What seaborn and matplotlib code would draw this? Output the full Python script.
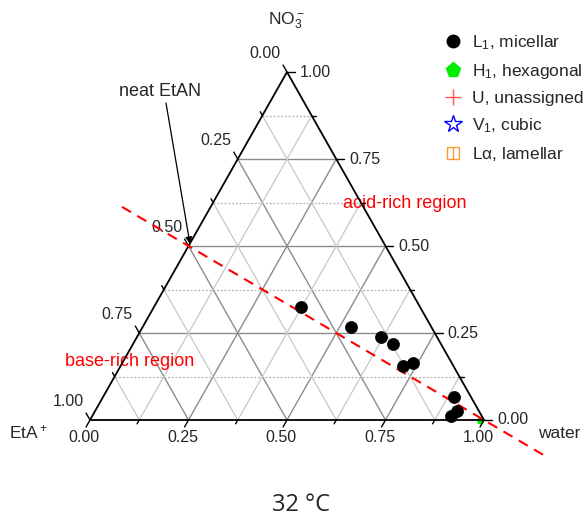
import numpy as np
import pandas as pd
import matplotlib
matplotlib.use("Agg")
import matplotlib.pyplot as plt
import seaborn as sns
from matplotlib.lines import Line2D

# ---------------- data ----------------
# L1 micellar compositions (mole fractions): EtA+, NO3-, water
eta_L1 = [0.302, 0.204, 0.142, 0.123, 0.128, 0.098, 0.043, 0.056, 0.079]
no3_L1 = [0.326, 0.267, 0.239, 0.218, 0.155, 0.164, 0.067, 0.027, 0.012]
water_L1 = [0.372, 0.529, 0.619, 0.659, 0.717, 0.738, 0.890, 0.917, 0.909]
# H1 hexagonal
eta_H1 = [0.01]
no3_H1 = [0.0]
water_H1 = [0.99]
# dilution line: neat EtAN -> water (extended)
dil_eta = [0.5, 0.0]
dil_no3 = [0.5, 0.0]
dil_water = [0.0, 1.0]
dil_t = [-0.225, 1.2]
major_vals = [0.0, 0.25, 0.5, 0.75, 1.0]
minor_vals = [0.125, 0.375, 0.625, 0.875]
tick_labels = ["0.00", "0.25", "0.50", "0.75", "1.00"]

S3 = np.sqrt(3) / 2


def tern(eta, no3, water):
    eta, no3, water = map(np.asarray, (eta, no3, water))
    return water + no3 / 2.0, no3 * S3


sns.set_style("white")
plt.rcParams["font.family"] = ["Liberation Sans", "DejaVu Sans"]
plt.rcParams["mathtext.fontset"] = "custom"
plt.rcParams["mathtext.rm"] = "Liberation Sans"
plt.rcParams["mathtext.it"] = "Liberation Sans:italic"
plt.rcParams["mathtext.default"] = "regular"

W, H = 585, 519
fig = plt.figure(figsize=(W / 100, H / 100), dpi=100)
ax = fig.add_axes([0, 0, 1, 1])
OX, OY = 90.0, 420.0
SX, SY = 394.0, 401.8
ax.set_xlim(-OX / SX, (W - OX) / SX)
ax.set_ylim(-(H - OY) / SY, OY / SY)
ax.axis("off")


def P(px, py):
    return ((px - OX) / SX, (OY - py) / SY)


# ---------------- grid ----------------
def grid_line(v, fam, **kw):
    if fam == "no3":
        a = tern(1 - v, v, 0)
        b = tern(0, v, 1 - v)
    elif fam == "water":
        a = tern(1 - v, 0, v)
        b = tern(0, 1 - v, v)
    else:
        a = tern(v, 0, 1 - v)
        b = tern(v, 1 - v, 0)
    ax.plot([a[0], b[0]], [a[1], b[1]], **kw)


for v in major_vals[1:-1]:
    for fam in ("no3", "water", "eta"):
        grid_line(v, fam, color="#8c8c8c", lw=1.0, zorder=1)
for v in minor_vals:
    grid_line(v, "no3", color="#b0b0b0", lw=0.9, ls=(0, (1.5, 1.5)), zorder=1)
    grid_line(v, "water", color="#c8c8c8", lw=0.9, zorder=1)
    grid_line(v, "eta", color="#c8c8c8", lw=0.9, zorder=1)

# triangle frame
fx, fy = tern([1, 0, 0, 1], [0, 0, 1, 0], [0, 1, 0, 0])
ax.plot(fx, fy, color="black", lw=1.3, zorder=4, solid_joinstyle="miter")

# ---------------- ticks ----------------
d_bot = np.array([-0.5, -S3])
d_left = np.array([-0.5, S3])
d_right = np.array([1.0, 0.0])
for vals, L in ((major_vals, 0.02), (minor_vals, 0.011)):
    for v in vals:
        p = np.array(tern(0, 0, v), float)  # bottom: water
        q = p + d_bot * L
        ax.plot([p[0], q[0]], [p[1], q[1]], color="black", lw=1.0, zorder=4)
        p = np.array(tern(v, 1 - v, 0), float)  # left: EtA
        q = p + d_left * L
        ax.plot([p[0], q[0]], [p[1], q[1]], color="black", lw=1.0, zorder=4)
        p = np.array(tern(0, v, 1 - v), float)  # right: NO3
        q = p + d_right * L
        ax.plot([p[0], q[0]], [p[1], q[1]], color="black", lw=1.0, zorder=4)

fs_tick = 11.5
for v, lab in zip(major_vals, tick_labels):
    x, y = tern(0, 0, v)
    ax.text(x - 6 / SX, y - 18 / SY, lab, ha="center", va="center", fontsize=fs_tick)
    x, y = tern(v, 1 - v, 0)
    ax.text(x - 22 / SX, y + 19 / SY, lab, ha="center", va="center", fontsize=fs_tick)
    x, y = tern(0, v, 1 - v)
    ax.text(x + 13 / SX, y, lab, ha="left", va="center", fontsize=fs_tick)

# axis titles
ax.text(*P(286, 21), "NO$_3^-$", ha="center", va="center", fontsize=12.5)
ax.text(*P(28, 432), "EtA$^+$", ha="center", va="center", fontsize=12.5)
ax.text(*P(559, 434), "water", ha="center", va="center", fontsize=12.5)

# ---------------- dilution line ----------------
t = np.array(dil_t)
le = dil_eta[0] + t * (dil_eta[1] - dil_eta[0])
ln = dil_no3[0] + t * (dil_no3[1] - dil_no3[0])
lw_ = dil_water[0] + t * (dil_water[1] - dil_water[0])
lx, ly = tern(le, ln, lw_)
ax.plot(lx, ly, color="red", lw=1.5, dashes=(5, 3.5), zorder=5)

# ---------------- data points ----------------
hx, hy = tern(eta_H1, no3_H1, water_H1)
ax.plot(hx, hy, marker="p", ls="none", color="#00ee00", ms=5, zorder=3)

x1, y1 = tern(eta_L1, no3_L1, water_L1)
df = pd.DataFrame({"x": x1, "y": y1, "phase": "L1"})
sns.scatterplot(data=df, x="x", y="y", color="black", s=75, edgecolor="black",
                linewidth=0.5, ax=ax, zorder=6, legend=False)
ax.set_xlim(-OX / SX, (W - OX) / SX)
ax.set_ylim(-(H - OY) / SY, OY / SY)
ax.axis("off")

# ---------------- annotations ----------------
ax.annotate("", xy=P(190, 244), xytext=P(166, 103),
            arrowprops=dict(arrowstyle="-|>", color="black", lw=0.9,
                            mutation_scale=10, shrinkA=0, shrinkB=0), zorder=7)
ax.text(*P(160, 91), "neat EtAN", ha="center", va="center", fontsize=13)
ax.text(*P(405, 203), "acid-rich region", ha="center", va="center", fontsize=13, color="red")
ax.text(*P(130, 361), "base-rich region", ha="center", va="center", fontsize=13, color="red")
fig.text(301 / W, 1 - 505 / H, "32 °C", ha="center", va="center", fontsize=17,
         family=["Open Sans", "DejaVu Sans"])

# ---------------- legend ----------------
h_L1 = Line2D([], [], marker="o", ls="none", color="black", ms=9)
h_H1 = Line2D([], [], marker="p", ls="none", color="#00ee00", ms=11)
h_U = Line2D([], [], marker="+", ls="none", color="#ff5555", ms=11, mew=1.0)
h_V1 = Line2D([], [], marker="*", ls="none", mfc="none", mec="#0000ff", ms=13, mew=1.0)
h_La1 = Line2D([], [], marker="s", ls="none", mfc="none", mec="#ff9933", ms=9, mew=1.0)
h_La2 = Line2D([], [], marker="|", ls="none", color="#ff9933", ms=9, mew=1.0)
handles = [h_L1, h_H1, h_U, h_V1, (h_La1, h_La2)]
labels = ["L$_1$, micellar", "H$_1$, hexagonal", "U, unassigned", "V$_1$, cubic",
          "L$\\alpha$, lamellar"]
fig.legend(handles, labels, loc="upper left", bbox_to_anchor=(444 / W, 1 - 33 / H),
           frameon=False, fontsize=12.5, handlelength=1.0, handletextpad=0.6,
           labelspacing=0.58, borderpad=0, borderaxespad=0)

fig.savefig("out.png", dpi=100)
